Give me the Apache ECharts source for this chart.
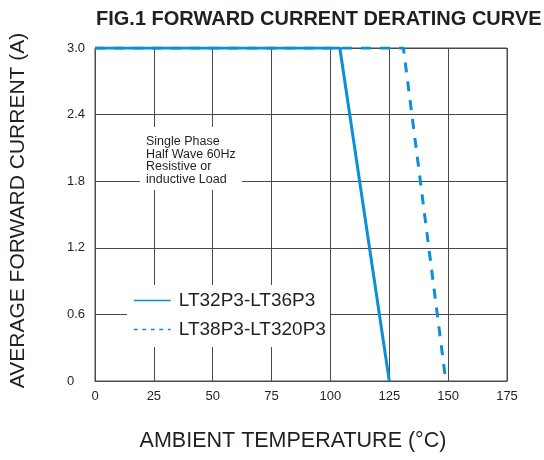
<!DOCTYPE html>
<html>
<head>
<meta charset="utf-8">
<script src="https://cdn.jsdelivr.net/npm/echarts@6/dist/echarts.min.js"></script>
<style>html,body{margin:0;padding:0;background:#fff}#c{width:544px;height:460px}</style>
</head>
<body>
<div id="c"></div>
<script>
// Data
const titleText = 'FIG.1 FORWARD CURRENT DERATING CURVE';
const seriesNames = ['LT32P3-LT36P3', 'LT38P3-LT320P3'];
const solidTemps = [0, 104, 125];
const solidCurrent = [3.0, 3.0, 0];
const dashedTemps = [0, 131, 149];
const dashedCurrent = [3.0, 3.0, 0];
const xTickLabels = ['0', '25', '50', '75', '100', '125', '150', '175'];
const yTickLabels = ['0', '0.6', '1.2', '1.8', '2.4', '3.0'];
const noteLines = ['Single Phase', 'Half Wave 60Hz', 'Resistive or', 'inductive Load'];
const xName = 'AMBIENT TEMPERATURE (°C)';
const yName = 'AVERAGE FORWARD CURRENT (A)';

const FONT = '"Liberation Sans", Arial, Helvetica, sans-serif';
const BLUE = '#0b8fd6';
const GRID = '#4a4a4a';
const TEXT = '#231f20';

const chart = echarts.init(document.getElementById('c'), null, {renderer: 'canvas'});
const pairs = (xs, ys) => xs.map((x, i) => [x, ys[i]]);

chart.setOption({
  animation: false,
  backgroundColor: '#ffffff',
  title: {
    text: titleText, left: 91, top: 4,
    textStyle: {fontFamily: FONT, fontSize: 20, fontWeight: 'bold', color: TEXT}
  },
  grid: {left: 95, top: 48, width: 412, height: 333, show: true, borderColor: GRID, borderWidth: 1, backgroundColor: 'transparent'},
  legend: {
    orient: 'vertical', left: 127, top: 285,
    backgroundColor: '#ffffff',
    padding: [6, 4, 8, 6],
    itemWidth: 37, itemHeight: 14, itemGap: 10,
    textStyle: {fontFamily: FONT, fontSize: 19, color: TEXT, padding: [0, 0, 0, 3]},
    lineStyle: {width: 1.5},
    itemStyle: {opacity: 0, borderWidth: 0},
    data: [
      {name: seriesNames[0], lineStyle: {type: 'solid', width: 1.5}, itemStyle: {opacity: 0}},
      {name: seriesNames[1], lineStyle: {type: [4, 4.5], width: 1.5}, itemStyle: {opacity: 0}}
    ]
  },
  xAxis: {
    type: 'value', min: 0, max: 175, interval: 25,
    name: xName, nameLocation: 'middle', nameGap: 49,
    nameTextStyle: {fontFamily: FONT, fontSize: 21.5, color: TEXT, padding: [0, 16, 0, 0]},
    axisLine: {show: true, lineStyle: {color: GRID, width: 1}},
    axisTick: {show: false},
    axisLabel: {
      margin: 9, fontFamily: FONT, fontSize: 13, color: TEXT,
      formatter: v => xTickLabels[Math.round(v / 25)]
    },
    splitLine: {show: true, lineStyle: {color: GRID, width: 1}}
  },
  yAxis: {
    type: 'value', min: 0, max: 3, interval: 0.6,
    name: yName, nameLocation: 'middle', nameGap: 66, nameRotate: 90,
    nameTextStyle: {fontFamily: FONT, fontSize: 21, color: TEXT, padding: [0, 0, 0, 8]},
    axisLine: {show: true, lineStyle: {color: GRID, width: 1}},
    axisTick: {show: false},
    axisLabel: {
      margin: 28, align: 'left', fontFamily: FONT, fontSize: 13, color: TEXT,
      formatter: v => yTickLabels[Math.round(v / 0.6)]
    },
    splitLine: {show: true, lineStyle: {color: GRID, width: 1}}
  },
  graphic: [
    {type: 'rect', left: 140, top: 127, z: 100, shape: {width: 102, height: 63}, style: {fill: '#ffffff'}},
    {type: 'text', left: 146, top: 135, z: 101, style: {
      text: noteLines.join('\n'), font: '12.5px ' + FONT, fill: TEXT, lineHeight: 12.7
    }}
  ],
  series: [
    {
      name: seriesNames[1], type: 'line', data: pairs(dashedTemps, dashedCurrent),
      symbol: 'none', z: 3,
      lineStyle: {color: BLUE, width: 3, type: [10, 9]}, itemStyle: {color: BLUE}
    },
    {
      name: seriesNames[0], type: 'line', data: pairs(solidTemps, solidCurrent),
      symbol: 'none', z: 4,
      lineStyle: {color: BLUE, width: 3, type: 'solid'}, itemStyle: {color: BLUE}
    }
  ]
});
</script>
</body>
</html>
